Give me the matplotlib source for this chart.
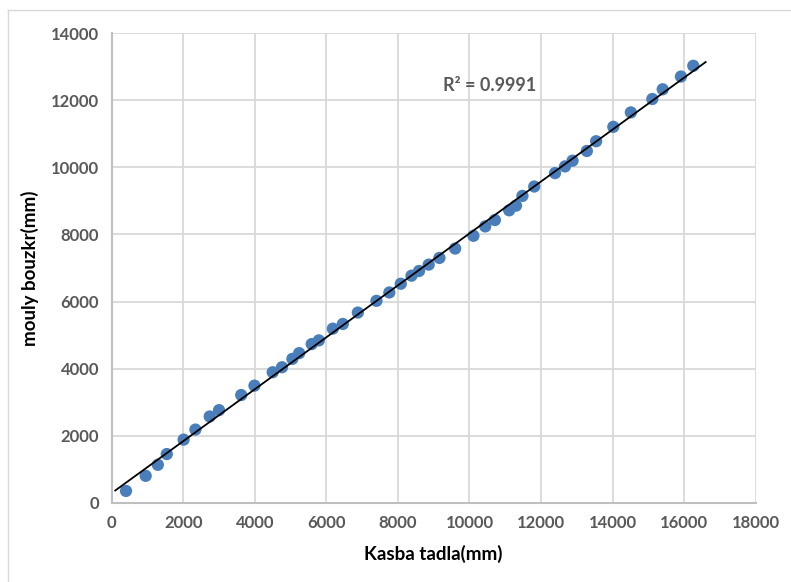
import matplotlib
matplotlib.use("Agg")
import matplotlib.pyplot as plt
import numpy as np
from matplotlib.lines import Line2D

# Data (mm)
kasba_tadla = [400, 950, 1290, 1540, 2010, 2340, 2740, 3000, 3620, 3990,
               4500, 4760, 5050, 5240, 5590, 5790, 6180, 6460, 6880, 7400,
               7760, 8080, 8380, 8590, 8860, 9160, 9600, 10110, 10440, 10710,
               11110, 11300, 11480, 11810, 12390, 12670, 12880, 13280, 13540, 14020,
               14510, 15110, 15400, 15910, 16255]
mouly_bouzkr = [350, 800, 1130, 1450, 1880, 2180, 2570, 2760, 3210, 3490,
                3890, 4040, 4290, 4460, 4730, 4840, 5190, 5330, 5670, 6020,
                6270, 6530, 6770, 6910, 7100, 7300, 7580, 7960, 8240, 8430,
                8720, 8860, 9150, 9430, 9830, 10030, 10200, 10490, 10780, 11210,
                11640, 12040, 12330, 12710, 13030]
r2_label = "R² = 0.9991"

plt.rcParams['font.family'] = ['Lato', 'DejaVu Sans']

fig = plt.figure(figsize=(7.91, 5.82), dpi=100)
ax = fig.add_axes([0.1412, 0.1363, 0.9554 - 0.1412, 0.9428 - 0.1363])

# linear trendline
coef = np.polyfit(kasba_tadla, mouly_bouzkr, 1)
xt = np.array([100, 16600])
ax.plot(xt, np.polyval(coef, xt), color='black', lw=1.3, zorder=3)

ax.scatter(kasba_tadla, mouly_bouzkr, s=78, color='#4a7ebb', edgecolors='none', zorder=2)

ax.set_xlim(0, 18000)
ax.set_ylim(0, 14000)
ax.set_xticks(np.arange(0, 18001, 2000))
ax.set_yticks(np.arange(0, 14001, 2000))
ax.grid(True, color='#d9d9d9', lw=1.3)
ax.set_axisbelow(True)
for s in ['top', 'right']:
    ax.spines[s].set_visible(False)
for s in ['left', 'bottom']:
    ax.spines[s].set_color('#bfbfbf')
    ax.spines[s].set_linewidth(1.5)
ax.tick_params(length=0, pad=9, labelsize=12, labelcolor='#595959')
for lab in ax.get_xticklabels() + ax.get_yticklabels():
    lab.set_fontweight('bold')

ax.set_xlabel("Kasba tadla(mm)", fontsize=13.5, fontweight='bold', labelpad=10)
ax.set_ylabel("mouly bouzkr(mm)", fontsize=13.5, fontweight='bold', labelpad=9)

ax.text(10570, 12440, r2_label, fontsize=13, fontweight='bold', color='#595959',
        ha='center', va='center')

# outer chart border
fig.add_artist(Line2D([8 / 791, 8 / 791], [0, 1 - 10 / 582], color='#d9d9d9', lw=1))
fig.add_artist(Line2D([8 / 791, 1], [1 - 10 / 582, 1 - 10 / 582], color='#d9d9d9', lw=1))

fig.savefig("out.png", dpi=100)
